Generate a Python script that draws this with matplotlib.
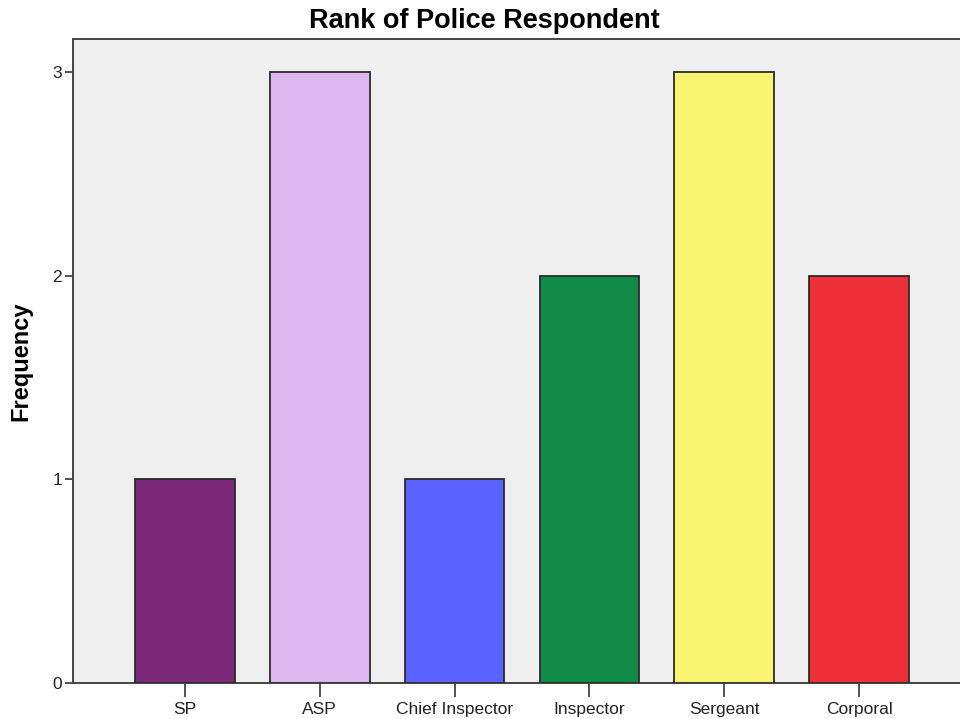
import matplotlib
matplotlib.use('Agg')
from matplotlib import pyplot as plt
import numpy as np

ranks = ['SP', 'ASP', 'Chief Inspector', 'Inspector', 'Sergeant', 'Corporal']
counts = [1, 3, 1, 2, 3, 2]
colors = ['#7B2978', '#DEB7F0', '#5A62FF', '#108B47', '#F9F571', '#EE3037']

plt.rcParams['font.family'] = ['Liberation Sans', 'DejaVu Sans']

fig = plt.figure(figsize=(9.6, 7.19), dpi=100)
ax = fig.add_axes([73 / 960, 1 - 683 / 719, 898 / 960, 644 / 719])
ax.set_facecolor('#EFEFEF')

x = np.arange(len(ranks))
ax.bar(x, counts, width=0.74, color=colors, edgecolor='#2A2A2A', linewidth=1.3, zorder=3)

ax.set_xlim(-0.83, 5.83)
ax.set_ylim(0, 3.162)
ax.set_xticks(x)
ax.set_xticklabels(ranks, fontsize=12.5, color='#222222')
ax.set_yticks([0, 1, 2, 3])
ax.set_yticklabels(['0', '1', '2', '3'], fontsize=12.5, color='#222222')
ax.tick_params(axis='x', length=10, width=1.3, color='#444444', pad=4)
ax.tick_params(axis='y', length=6, width=1.3, color='#444444', pad=2)

for side in ['left', 'top', 'bottom', 'right']:
    ax.spines[side].set_color('#444444')
    ax.spines[side].set_linewidth(1.4)

ax.set_ylabel('Frequency', fontsize=17, fontweight='bold', labelpad=14)
fig.text(484 / 960, 1 - 21 / 719, 'Rank of Police Respondent', fontsize=19.5,
         fontweight='bold', ha='center', va='center')

fig.savefig('out.png', dpi=100)
